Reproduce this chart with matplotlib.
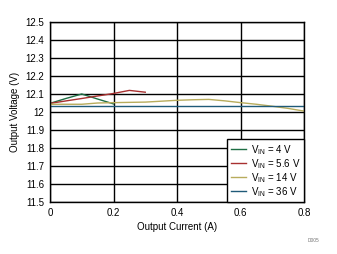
import numpy as np
import matplotlib.pyplot as plt

plt.rcParams['font.family'] = ['Liberation Sans', 'DejaVu Sans']
plt.rcParams['mathtext.fontset'] = 'custom'
plt.rcParams['mathtext.rm'] = 'Liberation Sans'

x_4v = [0, 0.05, 0.1, 0.15, 0.2]
y_4v = [12.048, 12.075, 12.1, 12.072, 12.045]

x_56v = [0, 0.1, 0.2, 0.25, 0.3]
y_56v = [12.048, 12.075, 12.103, 12.12, 12.11]

x_14v = [0, 0.1, 0.15, 0.2, 0.3, 0.35, 0.4, 0.45, 0.5, 0.55, 0.6, 0.65, 0.7, 0.75, 0.8]
y_14v = [12.043, 12.043, 12.05, 12.052, 12.055, 12.06, 12.065, 12.068, 12.07,
         12.062, 12.052, 12.043, 12.032, 12.02, 12.005]

x_36v = [0, 0.8]
y_36v = [12.033, 12.033]

labels = [r'V$_{\mathrm{IN}}$ = 4 V', r'V$_{\mathrm{IN}}$ = 5.6 V',
          r'V$_{\mathrm{IN}}$ = 14 V', r'V$_{\mathrm{IN}}$ = 36 V']
colors = ['#1e6e44', '#a83030', '#b8ac5c', '#1f5a78']

fig = plt.figure(figsize=(3.37, 2.54), dpi=100)
ax = fig.add_axes([50/337, 1-202/254, 254/337, 180/254])

for xs, ys, lab, c in zip([x_4v, x_56v, x_14v, x_36v], [y_4v, y_56v, y_14v, y_36v], labels, colors):
    ax.plot(xs, ys, color=c, lw=1.0, label=lab)

ax.set_xlim(0, 0.8)
ax.set_ylim(11.5, 12.5)
ax.set_xticks(np.arange(0, 0.81, 0.2))
ax.set_xticklabels(['0', '0.2', '0.4', '0.6', '0.8'])
ax.set_yticks(np.arange(11.5, 12.51, 0.1))
ax.set_yticklabels(['11.5', '11.6', '11.7', '11.8', '11.9', '12', '12.1', '12.2', '12.3', '12.4', '12.5'])
ax.grid(True, color='black', lw=1.0)
ax.set_axisbelow(True)
ax.tick_params(length=0, labelsize=7, pad=4)
for s in ax.spines.values():
    s.set_color('black')
    s.set_linewidth(1.0)

ax.set_xlabel('Output Current (A)', fontsize=7, labelpad=3)
ax.set_ylabel('Output Voltage (V)', fontsize=7, labelpad=4)

leg = ax.legend(loc='lower right', fontsize=7, frameon=True, fancybox=False,
                borderaxespad=0, handlelength=1.6, handletextpad=0.5,
                labelspacing=0.02, borderpad=0.35)
leg.get_frame().set_edgecolor('black')
leg.get_frame().set_linewidth(1.0)
leg.get_frame().set_alpha(1)

fig.text(314/337, 1-240/254, 'D005', fontsize=3.5, color='#777777', ha='center', va='center')

fig.savefig('out.png', dpi=100)
